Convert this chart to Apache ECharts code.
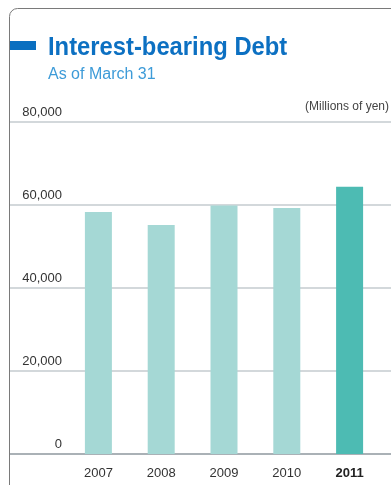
<!DOCTYPE html>
<html>
<head>
<meta charset="utf-8">
<script src="https://cdn.jsdelivr.net/npm/echarts@6/dist/echarts.min.js"></script>
<style>
  html, body { margin: 0; padding: 0; background: #fff; }
  #debt { width: 391px; height: 485px; }
</style>
</head>
<body>
<div id="debt"></div>
<script>
const years = ['2007', '2008', '2009', '2010', '2011'];
const debt = [58300, 55200, 59900, 59300, 64400];
const yTicks = [0, 20000, 40000, 60000, 80000];
const currentYear = '2011';

const myChart = echarts.init(document.getElementById('debt'));
const font = 'Liberation Sans, Arial, sans-serif';

myChart.setOption({
  animation: false,
  graphic: [
    {
      type: 'rect',
      shape: { x: 9.5, y: 8.5, width: 700, height: 700, r: 8 },
      style: { fill: 'none', stroke: '#7a7a7a', lineWidth: 1 },
      z: 10
    },
    {
      type: 'rect',
      shape: { x: 10, y: 41, width: 26, height: 9 },
      style: { fill: '#0a6fc0' }
    },
    // title, squeezed a bit like the condensed face of the original
    {
      type: 'text',
      x: 48,
      y: 47.5,
      scaleX: 0.915,
      style: {
        text: 'Interest-bearing Debt',
        font: 'bold 26px Liberation Sans, Arial, sans-serif',
        fill: '#0c70c2',
        textVerticalAlign: 'middle'
      }
    },
    {
      type: 'text',
      x: 48,
      y: 74.5,
      style: {
        text: 'As of March 31',
        font: '16px Liberation Sans, Arial, sans-serif',
        fill: '#3d9bd8',
        textVerticalAlign: 'middle'
      }
    },
    {
      type: 'text',
      x: 389,
      y: 106.5,
      style: {
        text: '(Millions of yen)',
        font: '12px Liberation Sans, Arial, sans-serif',
        fill: '#444',
        textAlign: 'right',
        textVerticalAlign: 'middle'
      }
    }
  ],
  grid: [
    { left: 10, right: 0, top: 122, bottom: 31 },
    { left: 67, right: 10, top: 122, bottom: 31 }
  ],
  xAxis: [
    {
      gridIndex: 0,
      type: 'value',
      min: 0,
      max: 1,
      axisLine: { show: true, onZero: false, lineStyle: { color: '#aab1b6', width: 2 } },
      axisTick: { show: false },
      axisLabel: { show: false },
      splitLine: { show: false }
    },
    {
      gridIndex: 1,
      type: 'category',
      data: years,
      axisLine: { show: false },
      axisTick: { show: false },
      axisLabel: {
        margin: 13,
        fontFamily: font,
        fontSize: 13,
        color: '#333',
        formatter: (v) => v === currentYear ? '{b|' + v + '}' : v,
        rich: { b: { fontWeight: 'bold', fontFamily: font, fontSize: 13, color: '#222' } }
      }
    }
  ],
  yAxis: [
    {
      gridIndex: 0,
      type: 'value',
      min: 0,
      max: 80000,
      interval: 20000,
      axisLine: { show: false },
      axisTick: { show: false },
      axisLabel: { show: false },
      splitLine: { lineStyle: { color: '#c5cbcf', width: 1.5 } }
    },
    {
      gridIndex: 1,
      type: 'value',
      min: yTicks[0],
      max: yTicks[yTicks.length - 1],
      interval: 20000,
      axisLine: { show: false },
      axisTick: { show: false },
      splitLine: { show: false },
      axisLabel: {
        margin: 5,
        verticalAlign: 'bottom',
        padding: [0, 0, 3, 0],
        fontFamily: font,
        fontSize: 13,
        color: '#333',
        formatter: (v) => v.toLocaleString('en-US')
      }
    }
  ],
  series: [
    {
      type: 'bar',
      xAxisIndex: 1,
      yAxisIndex: 1,
      barWidth: 27,
      data: debt.map((v, i) => ({
        value: v,
        itemStyle: { color: years[i] === currentYear ? '#4dbbb3' : '#a5d8d5' }
      }))
    }
  ]
});
</script>
</body>
</html>
